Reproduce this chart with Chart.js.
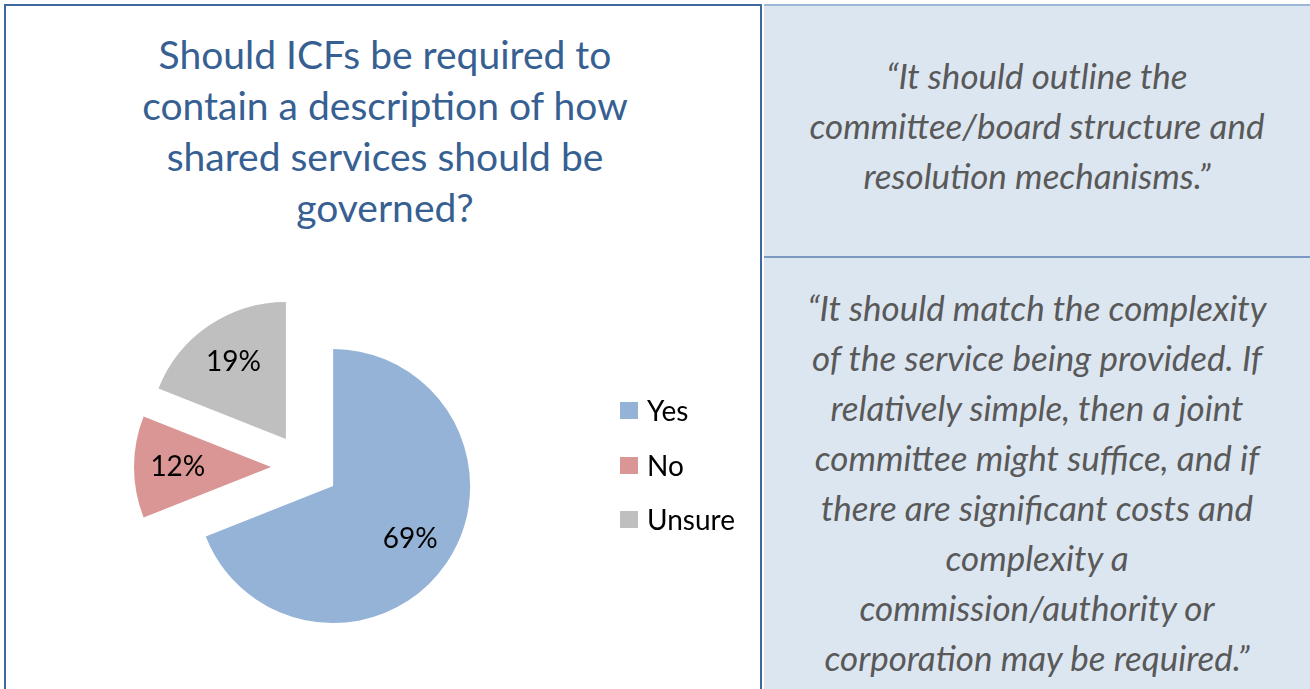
<!DOCTYPE html>
<html>
<head>
<meta charset="utf-8">
<script src="https://cdn.jsdelivr.net/npm/chart.js@4/dist/chart.umd.min.js"></script>
<style>
  body {
    margin: 0;
    width: 1310px;
    height: 689px;
    overflow: hidden;
    background: #fff;
    font-family: Lato, "Open Sans", sans-serif;
  }
  .left-panel {
    position: absolute;
    left: 4px;
    top: 4px;
    width: 758px;
    height: 700px;
    border: 2px solid #3f67a0;
    border-bottom: none;
    box-sizing: border-box;
  }
  .right-panel {
    position: absolute;
    left: 764px;
    top: 4px;
    width: 560px;
    height: 700px;
    background: #dce6f1;
    border-top: 2px solid #9db7d9;
  }
  .divider {
    position: absolute;
    left: 764px;
    top: 256px;
    width: 560px;
    height: 2px;
    background: #7c99c4;
  }
  .title {
    position: absolute;
    left: 6px;
    top: 29px;
    width: 758px;
    text-align: center;
    color: #376092;
    font-size: 39px;
    line-height: 51px;
  }
  .quote {
    position: absolute;
    left: 764px;
    width: 546px;
    text-align: center;
    color: #595959;
    font-style: italic;
    font-size: 35px;
    line-height: 50px;
  }
  #chartWrap {
    position: absolute;
    left: 0;
    top: 0;
    width: 764px;
    height: 689px;
  }
  .legend {
    position: absolute;
    left: 620px;
    top: 392px;
    font-size: 28px;
    color: #000;
  }
  .legend div {
    height: 54.5px;
    line-height: 36px;
    display: flex;
    align-items: flex-start;
  }
  .legend span.box {
    display: inline-block;
    width: 18px;
    height: 17px;
    margin-top: 10px;
    margin-right: 9px;
  }
</style>
</head>
<body>

<div class="left-panel"></div>
<div class="right-panel"></div>
<div class="divider"></div>

<div class="title">Should ICFs be required to<br>contain a description of how<br>shared services should be<br>governed?</div>

<div class="quote" style="top:50px">“It should outline the<br>committee/board structure and<br>resolution mechanisms.”</div>
<div class="quote" style="top:282px">“It should match the complexity<br>of the service being provided. If<br>relatively simple, then a joint<br>committee might suffice, and if<br>there are significant costs and<br>complexity a<br>commission/authority or<br>corporation may be required.”</div>

<div id="chartWrap"><canvas id="pieChart"></canvas></div>
<div class="legend" id="legend"></div>

<script>
// DATA

const answers = ["Yes", "No", "Unsure"];
const shares = [69, 12, 19];
const sliceColors = ["#95b3d7", "#d99694", "#bfbfbf"];

// how far every slice is pulled out of the middle (px)
const EXPLODE = 34;

// EXPLODED SLICES
// push each arc out along its middle angle before drawing it
const explodePlugin = {
  id: "explode",
  beforeDatasetDraw(chart, args) {
    args.meta.data.forEach(arc => {
      if (arc._exploded) return;
      const baseDraw = arc.draw;
      arc.draw = function (ctx, area) {
        const mid = (this.startAngle + this.endAngle) / 2;
        ctx.save();
        ctx.translate(Math.cos(mid) * EXPLODE, Math.sin(mid) * EXPLODE);
        baseDraw.call(this, ctx, area);
        ctx.restore();
      };
      arc._exploded = true;
    });
  }
};

// PERCENT LABELS inside the slices
const labelPlugin = {
  id: "pctLabels",
  afterDatasetsDraw(chart) {
    const ctx = chart.ctx;
    const meta = chart.getDatasetMeta(0);
    ctx.save();
    ctx.font = "28px Lato";
    ctx.fillStyle = "#000";
    ctx.textAlign = "center";
    ctx.textBaseline = "middle";
    meta.data.forEach((arc, i) => {
      const mid = (arc.startAngle + arc.endAngle) / 2;
      const dist = EXPLODE + arc.outerRadius * 0.68;
      const x = arc.x + Math.cos(mid) * dist;
      const y = arc.y + Math.sin(mid) * dist;
      ctx.fillText(shares[i] + "%", x, y);
    });
    ctx.restore();
  }
};

new Chart(document.getElementById("pieChart"), {
  type: "pie",
  data: {
    labels: answers,
    datasets: [{
      data: shares,
      backgroundColor: sliceColors,
      borderWidth: 0
    }]
  },
  options: {
    responsive: true,
    maintainAspectRatio: false,
    animation: false,
    layout: {
      padding: { left: 168, right: 322, top: 330, bottom: 85 }
    },
    plugins: {
      legend: { display: false },
      tooltip: { enabled: false }
    }
  },
  plugins: [explodePlugin, labelPlugin]
});

// LEGEND (built from the same arrays)
const legendEl = document.getElementById("legend");
answers.forEach((name, i) => {
  const row = document.createElement("div");
  row.innerHTML = `<span class="box" style="background:${sliceColors[i]}"></span><span>${name}</span>`;
  legendEl.appendChild(row);
});
</script>
</body>
</html>
